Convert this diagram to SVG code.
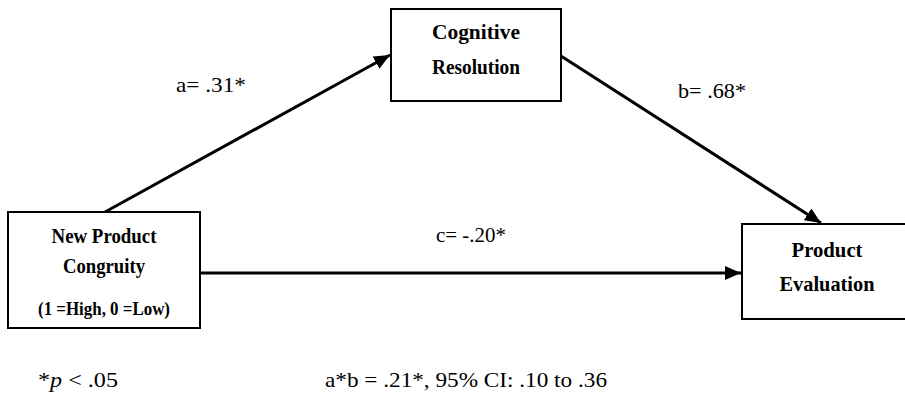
<svg xmlns="http://www.w3.org/2000/svg" width="905" height="393" viewBox="0 0 905 393">
<style>
.box{fill:#fff;stroke:#000;stroke-width:2}
.nt{font-family:'Liberation Serif','Times New Roman',Times,serif;font-weight:bold;font-size:21px;text-anchor:middle;fill:#000}
.lb{font-family:'Liberation Serif','Times New Roman',Times,serif;font-size:22px;fill:#000}
.cn{stroke:#000;stroke-width:3;fill:none;marker-end:url(#ah)}
</style>
<defs>
<marker id="ah" markerUnits="userSpaceOnUse" markerWidth="18" markerHeight="14" refX="16" refY="7" orient="auto">
<path d="M0,0 L16,7 L0,14 Z" fill="#000"/>
</marker>
</defs>
<rect width="905" height="393" fill="#fff"/>
<g id="connectors">
<line class="cn" x1="105" y1="212" x2="390" y2="55"/>
<line class="cn" x1="561" y1="56" x2="821" y2="223"/>
<line class="cn" x1="200" y1="273" x2="741" y2="273"/>
</g>
<g id="node-congruity">
<rect class="box" x="8" y="212" width="192" height="116"/>
<text class="nt" x="104" y="243" textLength="105" lengthAdjust="spacingAndGlyphs">New Product</text>
<text class="nt" x="104" y="273" textLength="82" lengthAdjust="spacingAndGlyphs">Congruity</text>
<text class="nt" x="104" y="315" style="font-size:18px" textLength="132" lengthAdjust="spacingAndGlyphs">(1 =High, 0 =Low)</text>
</g>
<g id="node-resolution">
<rect class="box" x="391" y="9" width="170" height="92"/>
<text class="nt" x="476" y="39" textLength="88" lengthAdjust="spacingAndGlyphs">Cognitive</text>
<text class="nt" x="476" y="74" textLength="88" lengthAdjust="spacingAndGlyphs">Resolution</text>
</g>
<g id="node-evaluation">
<rect class="box" x="742" y="224" width="170" height="95"/>
<text class="nt" x="827" y="257" textLength="71" lengthAdjust="spacingAndGlyphs">Product</text>
<text class="nt" x="827" y="291" textLength="95" lengthAdjust="spacingAndGlyphs">Evaluation</text>
</g>
<g id="labels">
<text class="lb" x="176" y="92" textLength="70" lengthAdjust="spacingAndGlyphs">a= .31*</text>
<text class="lb" x="678" y="98" textLength="68" lengthAdjust="spacingAndGlyphs">b= .68*</text>
<text class="lb" x="436" y="242" textLength="70" lengthAdjust="spacingAndGlyphs">c= -.20*</text>
<text class="lb" x="38" y="387" textLength="80" lengthAdjust="spacingAndGlyphs">*<tspan font-style="italic">p</tspan> &lt; .05</text>
<text class="lb" x="325" y="387" textLength="282" lengthAdjust="spacingAndGlyphs">a*b = .21*,  95% CI: .10 to .36</text>
</g>
</svg>
